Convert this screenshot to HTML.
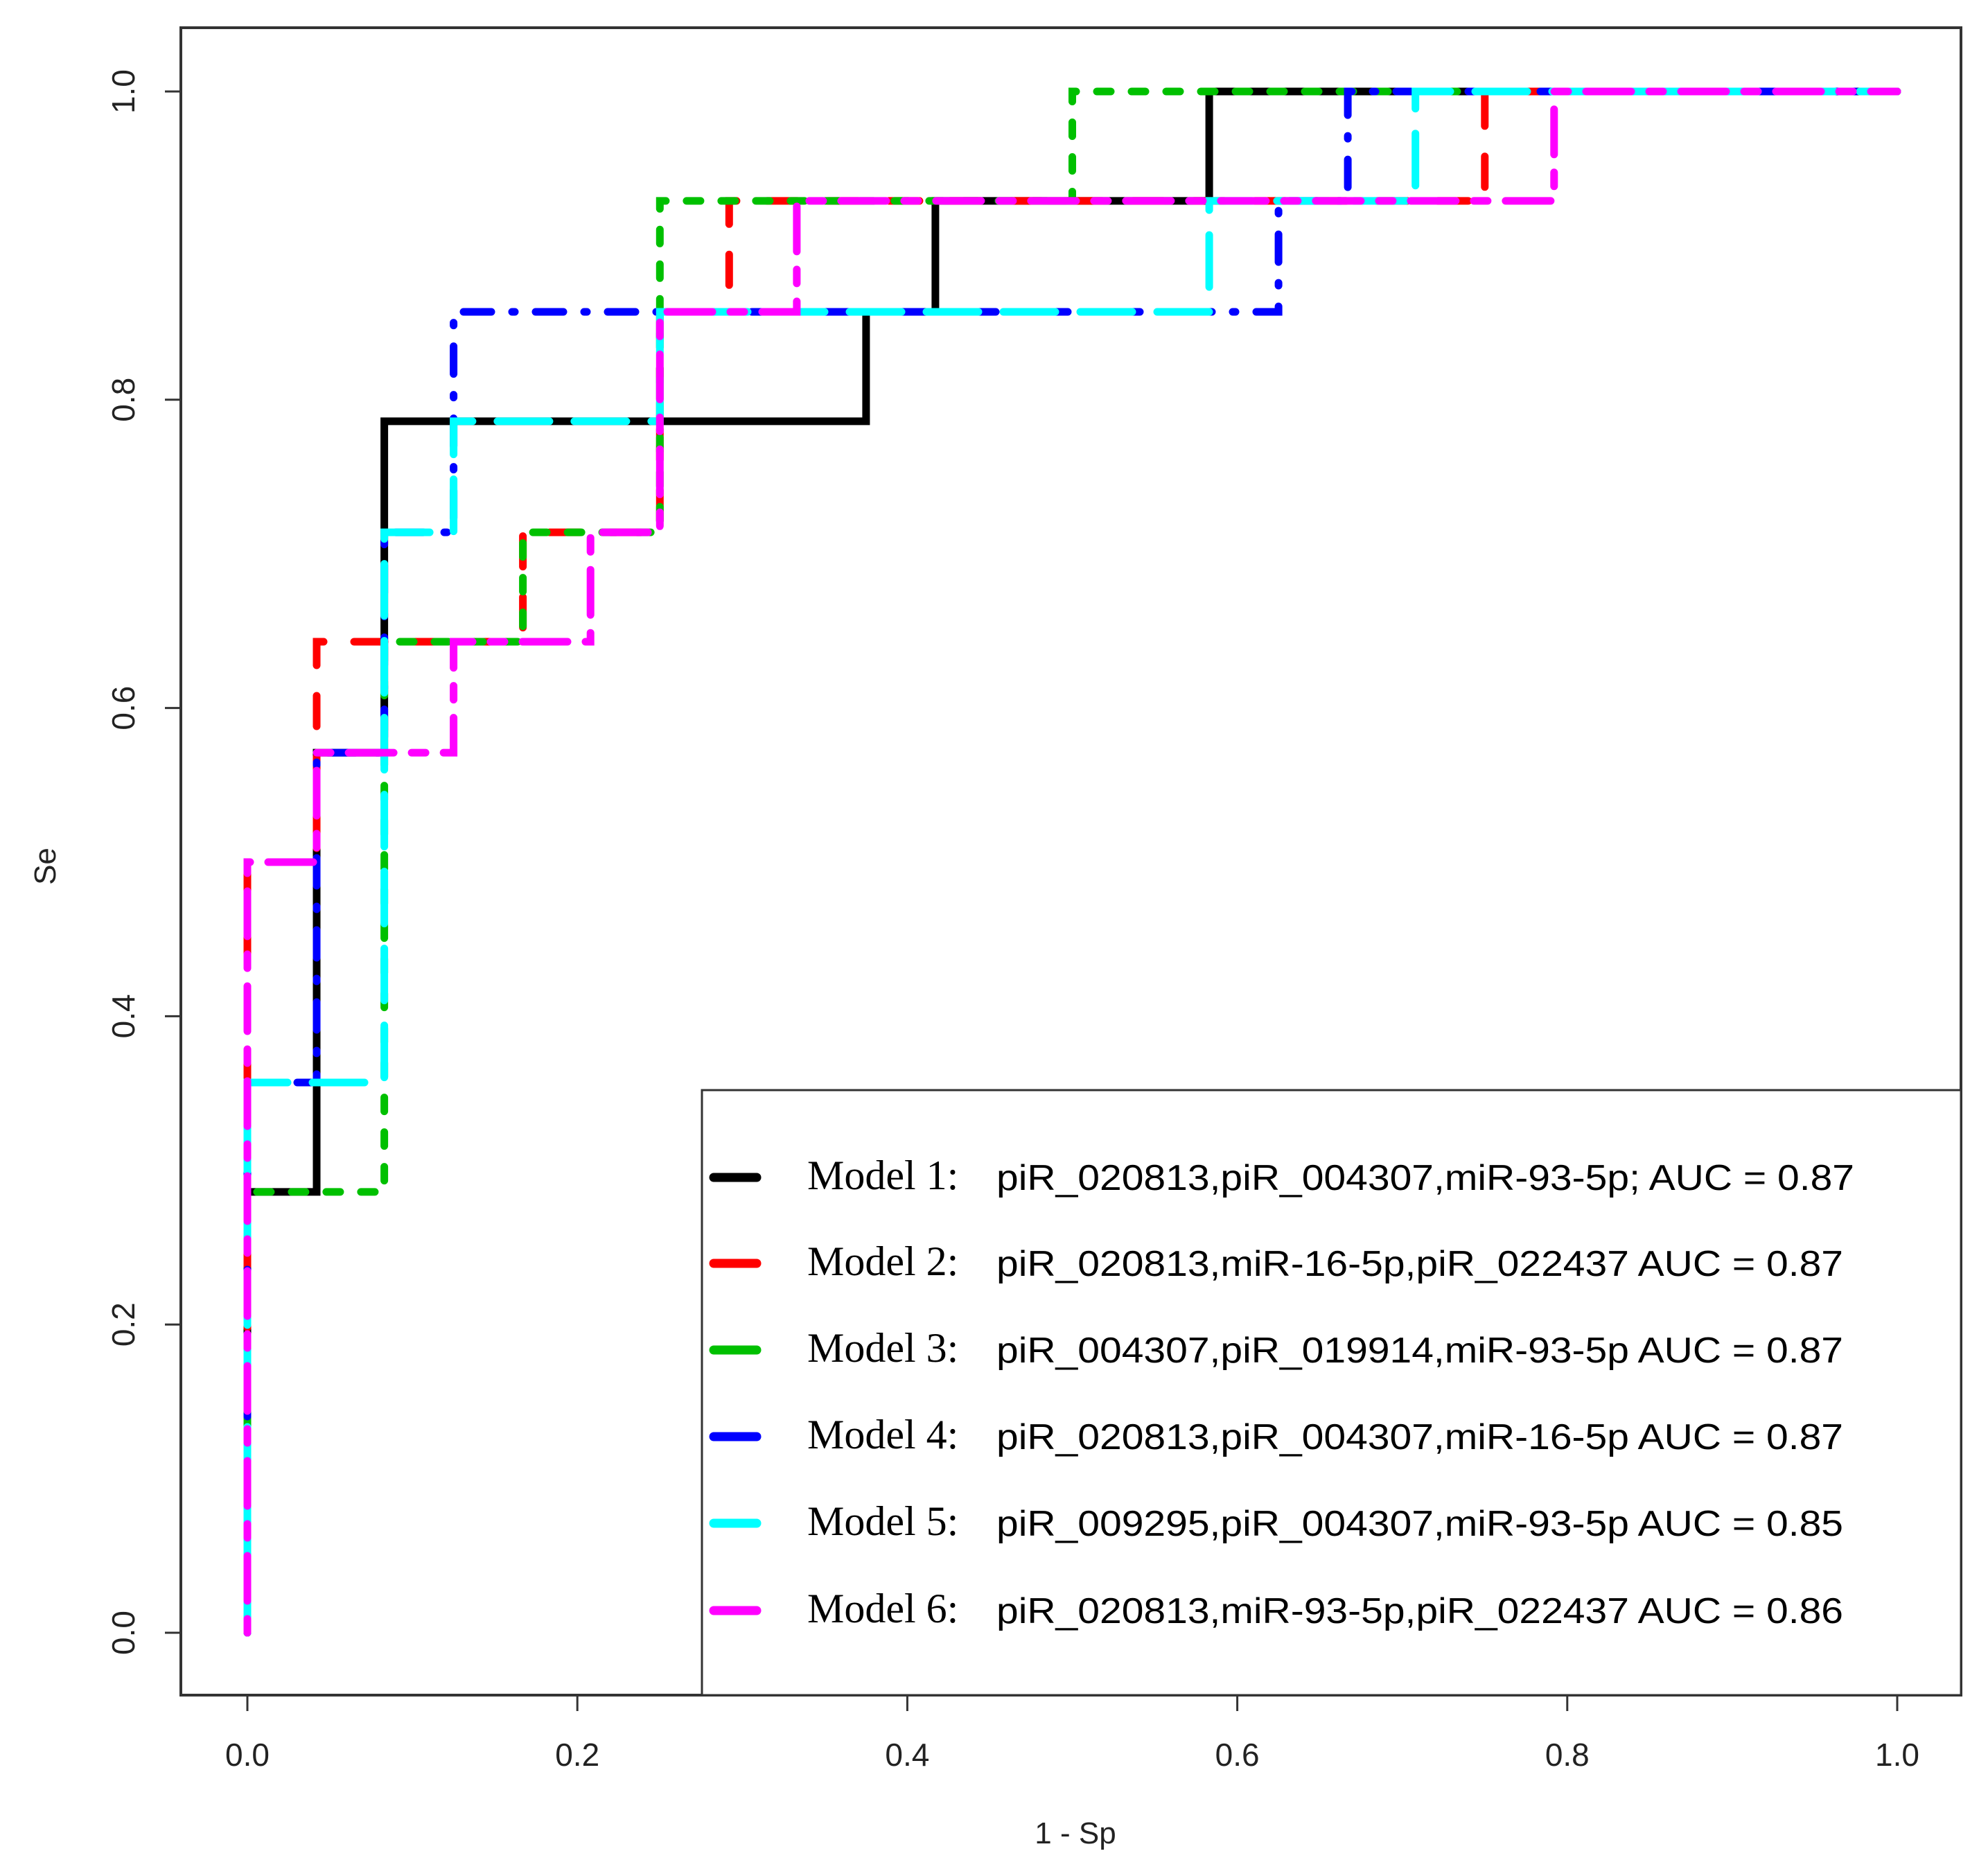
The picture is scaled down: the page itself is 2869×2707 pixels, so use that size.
<!DOCTYPE html>
<html><head><meta charset="utf-8"><style>
html,body{margin:0;padding:0;background:#fff;}
svg{display:block;}
</style></head><body>
<svg id="chart" width="2869" height="2707" viewBox="0 0 2869 2707" xmlns="http://www.w3.org/2000/svg">
<rect x="0" y="0" width="2869" height="2707" fill="#fff"/>
<g id="series"></g>
<rect x="261" y="40" width="2569" height="2406" fill="none" stroke="#333" stroke-width="4"/>
<g id="axes"></g>
<g id="legend"></g>
<text x="1552" y="2660" font-family="Liberation Sans, sans-serif" font-size="44" text-anchor="middle" fill="#222">1 - Sp</text>
<text x="80" y="1250" font-family="Liberation Sans, sans-serif" font-size="44" text-anchor="middle" fill="#222" transform="rotate(-90 80 1250)">Se</text>
</svg>
<script>
const NS='http://www.w3.org/2000/svg';
const xTicks=[0,0.2,0.4,0.6,0.8,1.0];
const yTicks=[0,0.2,0.4,0.6,0.8,1.0];
const tickLabels=['0.0','0.2','0.4','0.6','0.8','1.0'];
const m1X=[0,0,0.042,0.042,0.083,0.083,0.375,0.375,0.417,0.417,0.583,0.583,1];
const m1Y=[0,0.286,0.286,0.571,0.571,0.786,0.786,0.857,0.857,0.929,0.929,1,1];
const m2X=[0,0,0.042,0.042,0.167,0.167,0.25,0.25,0.292,0.292,0.75,0.75,1];
const m2Y=[0,0.5,0.5,0.643,0.643,0.714,0.714,0.857,0.857,0.929,0.929,1,1];
const m3X=[0,0,0.083,0.083,0.167,0.167,0.25,0.25,0.5,0.5,1];
const m3Y=[0,0.286,0.286,0.643,0.643,0.714,0.714,0.929,0.929,1,1];
const m4X=[0,0,0.042,0.042,0.083,0.083,0.125,0.125,0.625,0.625,0.667,0.667,1];
const m4Y=[0,0.357,0.357,0.571,0.571,0.714,0.714,0.857,0.857,0.929,0.929,1,1];
const m5X=[0,0,0.083,0.083,0.125,0.125,0.25,0.25,0.583,0.583,0.708,0.708,1];
const m5Y=[0,0.357,0.357,0.714,0.714,0.786,0.786,0.857,0.857,0.929,0.929,1,1];
const m6X=[0,0,0.042,0.042,0.125,0.125,0.208,0.208,0.25,0.25,0.333,0.333,0.792,0.792,1];
const m6Y=[0,0.5,0.5,0.571,0.571,0.643,0.643,0.714,0.714,0.857,0.857,0.929,0.929,1,1];
const modelNames=['Model 1:','Model 2:','Model 3:','Model 4:','Model 5:','Model 6:'];
const modelDescs=['piR_020813,piR_004307,miR-93-5p; AUC =  0.87','piR_020813,miR-16-5p,piR_022437 AUC =  0.87','piR_004307,piR_019914,miR-93-5p AUC =  0.87','piR_020813,piR_004307,miR-16-5p AUC =  0.87','piR_009295,piR_004307,miR-93-5p AUC =  0.85','piR_020813,miR-93-5p,piR_022437 AUC =  0.86'];
const colors=['#000000','#ff0000','#00c000','#0000ff','#00ffff','#ff00ff'];
const dashes=['none','44 44','20 30','4 30 40 30','75 36','20 26 65 26'];
const X0=357,X1=2738,Y0=2356,Y1=132;
function sx(v){return X0+(X1-X0)*v;}
function sy(v){return Y0+(Y1-Y0)*v;}
const series=[[m1X,m1Y],[m2X,m2Y],[m3X,m3Y],[m4X,m4Y],[m5X,m5Y],[m6X,m6Y]];
const gS=document.getElementById('series');
series.forEach((s,i)=>{
  const p=document.createElementNS(NS,'path');
  let d='';
  s[0].forEach((x,j)=>{d+=(j?'L':'M')+sx(x).toFixed(1)+' '+sy(s[1][j]).toFixed(1);});
  p.setAttribute('d',d);
  p.setAttribute('fill','none');
  p.setAttribute('stroke',colors[i]);
  p.setAttribute('stroke-width','11');
  p.setAttribute('stroke-linecap','round');
  if(dashes[i]!=='none')p.setAttribute('stroke-dasharray',dashes[i]);
  
  
  gS.appendChild(p);
});
const gA=document.getElementById('axes');
xTicks.forEach((v,i)=>{
  const l=document.createElementNS(NS,'line');
  l.setAttribute('x1',sx(v));l.setAttribute('x2',sx(v));l.setAttribute('y1',2446);l.setAttribute('y2',2469);
  l.setAttribute('stroke','#333');l.setAttribute('stroke-width','3');
  
  
  gA.appendChild(l);
  const t=document.createElementNS(NS,'text');
  t.setAttribute('x',sx(v));t.setAttribute('y',2548);
  t.setAttribute('font-family','Liberation Sans, sans-serif');t.setAttribute('font-size','46');
  t.setAttribute('text-anchor','middle');t.setAttribute('fill','#222');
  t.textContent=tickLabels[i];
  
  
  gA.appendChild(t);
});
yTicks.forEach((v,i)=>{
  const l=document.createElementNS(NS,'line');
  l.setAttribute('x1',238);l.setAttribute('x2',261);l.setAttribute('y1',sy(v));l.setAttribute('y2',sy(v));
  l.setAttribute('stroke','#333');l.setAttribute('stroke-width','3');
  
  
  gA.appendChild(l);
  const t=document.createElementNS(NS,'text');
  const yy=sy(v);
  t.setAttribute('x',194);t.setAttribute('y',yy);
  t.setAttribute('transform','rotate(-90 194 '+yy+')');
  t.setAttribute('font-family','Liberation Sans, sans-serif');t.setAttribute('font-size','46');
  t.setAttribute('text-anchor','middle');t.setAttribute('fill','#222');
  t.textContent=tickLabels[i];
  
  
  gA.appendChild(t);
});
const gL=document.getElementById('legend');
const box=document.createElementNS(NS,'rect');
box.setAttribute('x',1013);box.setAttribute('y',1573);box.setAttribute('width',1817);box.setAttribute('height',873);
box.setAttribute('fill','#fff');box.setAttribute('stroke','#333');box.setAttribute('stroke-width','3');


gL.appendChild(box);
const rowY=[1699,1823,1948,2073,2198,2324];
modelNames.forEach((n,i)=>{
  const y=rowY[i];
  const l=document.createElementNS(NS,'line');
  l.setAttribute('x1',1030);l.setAttribute('x2',1092);l.setAttribute('y1',y);l.setAttribute('y2',y);
  l.setAttribute('stroke',colors[i]);l.setAttribute('stroke-width','13');l.setAttribute('stroke-linecap','round');
  
  
  gL.appendChild(l);
  const t1=document.createElementNS(NS,'text');
  t1.setAttribute('x',1165);t1.setAttribute('y',y+17);
  t1.setAttribute('font-family','Liberation Serif, serif');t1.setAttribute('font-size','60');t1.setAttribute('fill','#000');
  t1.textContent=n;
  
  
  gL.appendChild(t1);
  const t2=document.createElementNS(NS,'text');
  t2.setAttribute('x',1438);t2.setAttribute('y',y+18);
  t2.setAttribute('font-family','Liberation Sans, sans-serif');t2.setAttribute('font-size','52');t2.setAttribute('fill','#000');
  t2.setAttribute('textLength',i===0?'1238':'1222');t2.setAttribute('lengthAdjust','spacingAndGlyphs');
  t2.textContent=modelDescs[i];
  
  
  gL.appendChild(t2);
});
</script>
</body></html>
